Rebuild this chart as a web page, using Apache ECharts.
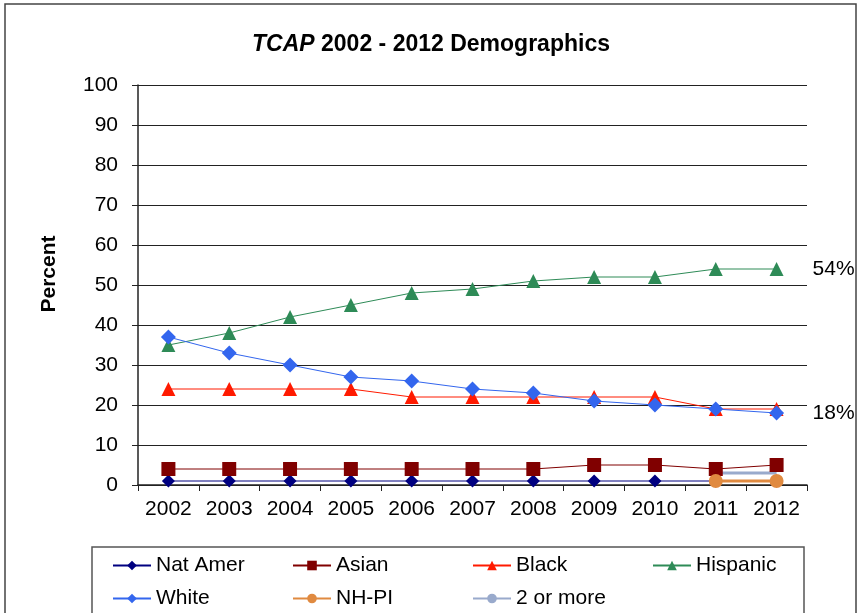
<!DOCTYPE html>
<html>
<head>
<meta charset="utf-8">
<script src="https://cdn.jsdelivr.net/npm/echarts@6/dist/echarts.min.js"></script>
<style>
  html, body { margin: 0; padding: 0; background: #fff; }
  #main { width: 862px; height: 613px; }
</style>
</head>
<body>
<div id="main"></div>
<script>
var years = ['2002', '2003', '2004', '2005', '2006', '2007', '2008', '2009', '2010', '2011', '2012'];
var natAmer = [1, 1, 1, 1, 1, 1, 1, 1, 1, 1, 1];
var asian = [4, 4, 4, 4, 4, 4, 4, 5, 5, 4, 5];
var black = [24, 24, 24, 24, 22, 22, 22, 22, 22, 19, 19];
var hispanic = [35, 38, 42, 45, 48, 49, 51, 52, 52, 54, 54];
var white = [37, 33, 30, 27, 26, 24, 23, 21, 20, 19, 18];
var nhpi = [null, null, null, null, null, null, null, null, null, 1, 1];
var twoOrMore = [null, null, null, null, null, null, null, null, null, 3, 3];

var font = 'Liberation Sans, Arial, sans-serif';

function line(name, data, color, symbol, size, width) {
    return {
        name: name,
        type: 'line',
        data: data,
        symbol: symbol,
        symbolSize: size,
        showAllSymbol: true,
        connectNulls: false,
        lineStyle: { color: color, width: width || 1 },
        itemStyle: { color: color },
        emphasis: { disabled: true },
        animation: false
    };
}

function legendAt(name, left, top) {
    return {
        data: [name],
        left: left,
        top: top,
        padding: 0,
        itemWidth: 38,
        itemHeight: 12,
        itemGap: 0,
        textStyle: { fontSize: 21, color: '#000', fontFamily: font },
        selectedMode: false
    };
}

var hisp = line('Hispanic', hispanic, '#2e8b57', 'triangle', 14);
hisp.endLabel = { show: true, formatter: '54%', fontSize: 21, color: '#000', fontFamily: font, distance: 36 };
var wht = line('White', white, '#3366ee', 'diamond', 15);
wht.endLabel = { show: true, formatter: '18%', fontSize: 21, color: '#000', fontFamily: font, distance: 36 };

var myChart = echarts.init(document.getElementById('main'));
option = {
    backgroundColor: '#fff',
    title: {
        text: '{i|TCAP} 2002 - 2012 Demographics',
        left: 'center',
        top: 28,
        textStyle: {
            fontSize: 23,
            fontWeight: 'bold',
            color: '#000',
            fontFamily: font,
            rich: {
                i: { fontSize: 23, fontWeight: 'bold', fontStyle: 'italic', fontFamily: font, color: '#000' }
            }
        }
    },
    graphic: [
        { type: 'rect', shape: { x: 5, y: 4, width: 851, height: 620 }, style: { fill: 'none', stroke: '#444', lineWidth: 1.5 }, silent: true },
        { type: 'rect', shape: { x: 92, y: 547, width: 712, height: 80 }, style: { fill: 'none', stroke: '#555', lineWidth: 1.5 }, silent: true },
        {
            type: 'text', x: 49, y: 274, rotation: Math.PI / 2, silent: true,
            style: { text: 'Percent', fontSize: 21, fontWeight: 'bold', fill: '#000', fontFamily: font, align: 'center', verticalAlign: 'middle' }
        }
    ],
    legend: [
        legendAt('Nat Amer', 112, 555),
        legendAt('Asian', 292, 555),
        legendAt('Black', 472, 555),
        legendAt('Hispanic', 652, 555),
        legendAt('White', 112, 588),
        legendAt('NH-PI', 292, 588),
        legendAt('2 or more', 472, 588)
    ],
    grid: { left: 138, right: 55, top: 85, bottom: 128 },
    xAxis: {
        type: 'category',
        data: years,
        boundaryGap: true,
        axisLine: { lineStyle: { color: '#222', width: 1.5 } },
        axisTick: { show: true, length: 6, lineStyle: { color: '#222' } },
        axisLabel: { fontSize: 21, color: '#000', fontFamily: font, margin: 14 }
    },
    yAxis: {
        type: 'value',
        min: 0,
        max: 100,
        interval: 10,
        axisLine: { show: true, lineStyle: { color: '#222', width: 1.5 } },
        axisTick: { show: true, length: 6, lineStyle: { color: '#222' } },
        axisLabel: { fontSize: 21, color: '#000', fontFamily: font, margin: 20 },
        splitLine: { lineStyle: { color: '#222', width: 1.2 } }
    },
    series: [
        line('Nat Amer', natAmer, '#000080', 'diamond', 13),
        line('Asian', asian, '#800000', 'rect', 14),
        line('Black', black, '#ff1a00', 'triangle', 14),
        hisp,
        wht,
        line('NH-PI', nhpi, '#e08a40', 'circle', 14, 3),
        line('2 or more', twoOrMore, '#99aacc', 'none', 10, 3)
    ]
};
myChart.setOption(option);
</script>
</body>
</html>
